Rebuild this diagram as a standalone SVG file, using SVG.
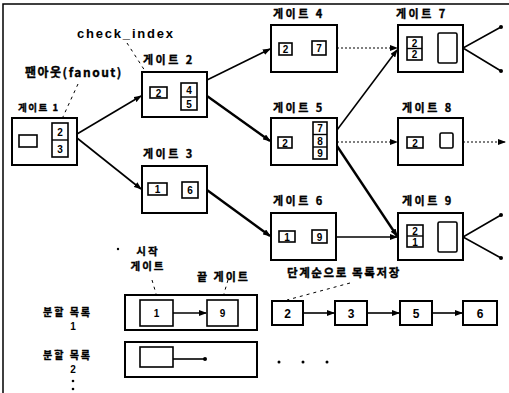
<svg xmlns="http://www.w3.org/2000/svg" width="509" height="393" viewBox="0 0 509 393">
<style>
.box{fill:#fff;stroke:#000;stroke-width:2}
.cell{fill:#fff;stroke:#000;stroke-width:1.6}
.lbl{font-family:"Noto Sans CJK KR","Liberation Sans",sans-serif;font-weight:bold;font-size:11px;letter-spacing:2.5px;fill:#000;stroke:#000;stroke-width:0.35}
.num{font-family:"Liberation Sans",sans-serif;font-weight:bold;font-size:10px;fill:#000;text-anchor:middle}
.big{font-family:"Liberation Sans",sans-serif;font-weight:bold;font-size:12px;fill:#000;text-anchor:middle}
.ln{stroke:#000;stroke-width:1.6;fill:none}
.thick{stroke:#000;stroke-width:2.4;fill:none}
.dot{stroke:#000;stroke-width:1.2;stroke-dasharray:2 2;fill:none}
.dash{stroke:#000;stroke-width:1;stroke-dasharray:3 4;fill:none}
</style>
<defs>
<marker id="ah" markerUnits="userSpaceOnUse" markerWidth="8" markerHeight="6" refX="7" refY="3" orient="auto">
<path d="M0,0 L8,3 L0,6 Z" fill="#000"/>
</marker>
</defs>
<rect width="509" height="393" fill="#fff"/>
<!-- frame -->
<path d="M3,393 V4 H509" stroke="#000" stroke-width="1.5" fill="none"/>

<!-- annotations -->
<g id="annotations">
<text x="77" y="38" style="font-family:'Liberation Sans',sans-serif;font-weight:bold;font-size:13px;letter-spacing:1.8px">check_index</text>
<text x="25" y="77" style="font-family:'Noto Sans CJK KR','Liberation Sans',sans-serif;font-weight:bold;font-size:12px;letter-spacing:1.5px;stroke:#000;stroke-width:0.35">팬아웃(fanout)</text>
<path class="dash" d="M127,43 L156,88"/>
<path class="dash" d="M78,84 L62,119"/>
<circle cx="61" cy="121" r="1.6"/>
<circle cx="155" cy="89" r="1.4"/>
</g>

<!-- connectors -->
<g id="connectors">
<line class="ln" x1="77" y1="134" x2="141" y2="96" marker-end="url(#ah)"/>
<line class="ln" x1="77" y1="138" x2="141" y2="189" marker-end="url(#ah)"/>
<line class="ln" x1="207" y1="80" x2="270" y2="49" marker-end="url(#ah)"/>
<line class="thick" x1="207" y1="96" x2="270" y2="141" marker-end="url(#ah)"/>
<line class="thick" x1="207" y1="190" x2="270" y2="236" marker-end="url(#ah)"/>
<line class="dot" x1="337" y1="48" x2="397" y2="48" marker-end="url(#ah)"/>
<line class="ln" x1="337" y1="130" x2="397" y2="50" marker-end="url(#ah)"/>
<line class="dot" x1="337" y1="142" x2="397" y2="142" marker-end="url(#ah)"/>
<line class="thick" x1="337" y1="146" x2="397" y2="236" marker-end="url(#ah)"/>
<line class="ln" x1="336" y1="237" x2="397" y2="237" marker-end="url(#ah)"/>
<line class="dot" x1="463" y1="142" x2="505" y2="142" marker-end="url(#ah)"/>
<path class="ln" d="M501,27 L463,48 L501,71"/>
<path class="ln" d="M501,215 L463,237 L501,258"/>
<circle cx="501" cy="27" r="2"/>
<circle cx="501" cy="71" r="2"/>
<circle cx="501" cy="215" r="2"/>
<circle cx="501" cy="258" r="2"/>
</g>

<!-- gates -->
<g id="gate1">
<text class="lbl" x="18" y="111" style="font-size:9.5px;letter-spacing:1.5px">게이트 1</text>
<rect class="box" x="12" y="118" width="65" height="47"/>
<rect class="cell" x="19" y="135" width="18" height="12"/>
<rect class="cell" x="52" y="123" width="16" height="34"/>
<line class="ln" x1="52" y1="140" x2="68" y2="140" style="stroke-width:1.4"/>
<text class="num" x="60" y="136">2</text>
<text class="num" x="60" y="153">3</text>
</g>
<g id="gate2">
<text class="lbl" x="143" y="64">게이트 2</text>
<rect class="box" x="142" y="72" width="65" height="45"/>
<rect class="cell" x="150" y="87" width="17" height="11"/>
<text class="num" x="158.5" y="96.5">2</text>
<rect class="cell" x="181" y="83" width="16" height="27"/>
<line class="ln" x1="181" y1="97" x2="197" y2="97" style="stroke-width:1.4"/>
<text class="num" x="189" y="94">4</text>
<text class="num" x="189" y="107.5">5</text>
</g>
<g id="gate3">
<text class="lbl" x="143" y="158">게이트 3</text>
<rect class="box" x="142" y="166" width="65" height="47"/>
<rect class="cell" x="148" y="183" width="19" height="12"/>
<text class="num" x="157.5" y="193">1</text>
<rect class="cell" x="182" y="182" width="16" height="16"/>
<text class="num" x="190" y="194">6</text>
</g>
<g id="gate4">
<text class="lbl" x="273" y="18">게이트 4</text>
<rect class="box" x="271" y="25" width="66" height="47"/>
<rect class="cell" x="279" y="43" width="13" height="12"/>
<text class="num" x="285.5" y="53">2</text>
<rect class="cell" x="312" y="41" width="14" height="14"/>
<text class="num" x="319" y="52">7</text>
</g>
<g id="gate5">
<text class="lbl" x="273" y="112">게이트 5</text>
<rect class="box" x="271" y="118" width="66" height="47"/>
<rect class="cell" x="278" y="137" width="14" height="11"/>
<text class="num" x="285" y="146.5">2</text>
<rect class="cell" x="313" y="122" width="14" height="37"/>
<line class="ln" x1="313" y1="134.5" x2="327" y2="134.5" style="stroke-width:1.4"/>
<line class="ln" x1="313" y1="147" x2="327" y2="147" style="stroke-width:1.4"/>
<text class="num" x="320" y="132">7</text>
<text class="num" x="320" y="144.5">8</text>
<text class="num" x="320" y="157">9</text>
</g>
<g id="gate6">
<text class="lbl" x="273" y="205">게이트 6</text>
<rect class="box" x="271" y="213" width="65" height="47"/>
<rect class="cell" x="279" y="231" width="16" height="11"/>
<text class="num" x="287" y="240.5">1</text>
<rect class="cell" x="312" y="230" width="15" height="13"/>
<text class="num" x="319.5" y="240.5">9</text>
</g>
<g id="gate7">
<text class="lbl" x="396" y="18">게이트  7</text>
<rect class="box" x="398" y="25" width="65" height="47"/>
<rect class="cell" x="407" y="37" width="15" height="23"/>
<line class="ln" x1="407" y1="48.5" x2="422" y2="48.5" style="stroke-width:1.4"/>
<text class="num" x="414.5" y="47">2</text>
<text class="num" x="414.5" y="58">2</text>
<rect class="cell" x="438" y="33" width="19" height="30" rx="1.5"/>
</g>
<g id="gate8">
<text class="lbl" x="402" y="112">게이트 8</text>
<rect class="box" x="398" y="118" width="65" height="47"/>
<rect class="cell" x="407" y="137" width="16" height="11"/>
<text class="num" x="415" y="146.5">2</text>
<rect class="cell" x="440" y="133" width="13" height="15" rx="1.5"/>
</g>
<g id="gate9">
<text class="lbl" x="402" y="205">게이트 9</text>
<rect class="box" x="398" y="213" width="65" height="47"/>
<rect class="cell" x="407" y="225" width="16" height="22"/>
<line class="ln" x1="407" y1="236" x2="423" y2="236" style="stroke-width:1.4"/>
<text class="num" x="415" y="234.5">2</text>
<text class="num" x="415" y="245.5">1</text>
<rect class="cell" x="438" y="222" width="19" height="30" rx="1.5"/>
</g>

<!-- partition lists -->
<g id="partlabels">
<circle cx="118" cy="249" r="1.2"/>
<text class="lbl" x="148" y="255" text-anchor="middle" style="font-size:10.5px;letter-spacing:2px">시작</text>
<text class="lbl" x="148" y="270" text-anchor="middle" style="font-size:10.5px;letter-spacing:2px">게이트</text>
<text class="lbl" x="197" y="281" style="letter-spacing:2px">끝 게이트</text>
<text class="lbl" x="287" y="277" style="font-size:11.5px;letter-spacing:1.6px">단계순으로 목록저장</text>
<path class="dash" d="M152,280 L157,297"/>
<path class="dash" d="M228,280 L223,297"/>
<path class="dash" d="M350,283 L287,300"/>
<text class="lbl" x="43" y="316" style="font-size:10px;letter-spacing:2px">분할 목록</text>
<text class="num" x="73" y="330">1</text>
<text class="lbl" x="43" y="359" style="font-size:10px;letter-spacing:2px">분할 목록</text>
<text class="num" x="73" y="373">2</text>
<circle cx="73" cy="381" r="1.3"/>
<circle cx="73" cy="389" r="1.3"/>
</g>
<g id="list1">
<rect class="box" x="125" y="295" width="132" height="35"/>
<rect class="cell" x="140" y="300" width="33" height="26"/>
<text class="num" x="156.5" y="317">1</text>
<rect class="cell" x="207" y="300" width="31" height="26"/>
<text class="num" x="222.5" y="317">9</text>
<line class="ln" x1="173" y1="313" x2="206" y2="313" marker-end="url(#ah)"/>
</g>
<g id="list2">
<rect class="box" x="125" y="342" width="132" height="35"/>
<rect class="cell" x="140" y="347" width="33" height="20"/>
<line class="ln" x1="173" y1="359" x2="204" y2="359"/>
<circle cx="205" cy="359" r="2"/>
</g>
<g id="chain">
<rect class="box" x="272" y="301" width="31" height="24"/>
<text class="big" x="287.5" y="317.5">2</text>
<rect class="box" x="335" y="301" width="32" height="24"/>
<text class="big" x="351" y="317.5">3</text>
<rect class="box" x="400" y="301" width="32" height="24"/>
<text class="big" x="416" y="317.5">5</text>
<rect class="box" x="463" y="301" width="34" height="24"/>
<text class="big" x="480" y="317.5">6</text>
<line class="ln" x1="303" y1="313" x2="334" y2="313" marker-end="url(#ah)"/>
<line class="ln" x1="367" y1="313" x2="399" y2="313" marker-end="url(#ah)"/>
<line class="ln" x1="432" y1="313" x2="462" y2="313" marker-end="url(#ah)"/>
<circle cx="279" cy="362" r="1.5"/>
<circle cx="303" cy="362" r="1.5"/>
<circle cx="327" cy="362" r="1.5"/>
</g>
</svg>
